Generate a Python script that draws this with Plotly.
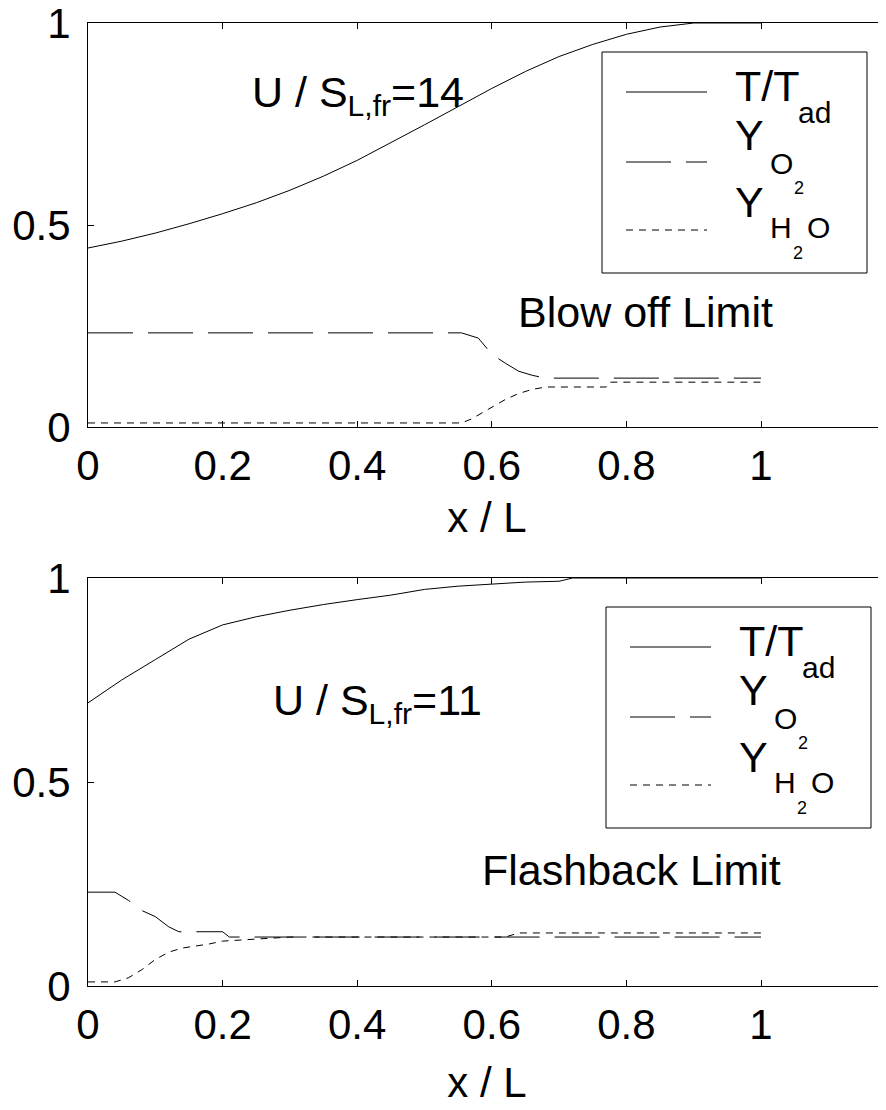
import plotly.graph_objects as go

# ---- data ----
# top panel : U / S_L,fr = 14 (blow off limit)
x_T_top = [0, 0.05, 0.1, 0.15, 0.2, 0.25, 0.3, 0.35, 0.4, 0.45, 0.5, 0.55, 0.6, 0.65, 0.7, 0.75, 0.8, 0.85, 0.9, 1.0]
T_top = [0.443, 0.46, 0.48, 0.503, 0.528, 0.555, 0.586, 0.621, 0.66, 0.703, 0.748, 0.793, 0.838, 0.88, 0.917, 0.947, 0.972, 0.99, 1.0, 1.0]

x_O2_top = [0, 0.555, 0.58, 0.6, 0.62, 0.64, 0.66, 0.68, 1.0]
O2_top = [0.233, 0.233, 0.22, 0.18, 0.158, 0.138, 0.128, 0.121, 0.121]

x_H2O_top = [0, 0.555, 0.57, 0.6, 0.62, 0.64, 0.66, 0.68, 0.77, 0.775, 1.0]
H2O_top = [0.01, 0.01, 0.02, 0.048, 0.068, 0.083, 0.093, 0.099, 0.099, 0.111, 0.111]

# bottom panel : U / S_L,fr = 11 (flashback limit)
x_T_bot = [0, 0.05, 0.1, 0.15, 0.2, 0.25, 0.3, 0.35, 0.4, 0.45, 0.5, 0.55, 0.6, 0.65, 0.7, 0.72, 1.0]
T_bot = [0.694, 0.75, 0.80, 0.85, 0.885, 0.905, 0.921, 0.935, 0.947, 0.958, 0.972, 0.98, 0.985, 0.99, 0.992, 1.0, 1.0]

x_O2_bot = [0, 0.04, 0.06, 0.08, 0.1, 0.12, 0.135, 0.2, 0.21, 1.0]
O2_bot = [0.23, 0.23, 0.21, 0.185, 0.17, 0.145, 0.133, 0.133, 0.12, 0.12]

x_H2O_bot = [0, 0.04, 0.06, 0.08, 0.1, 0.12, 0.14, 0.18, 0.2, 0.3, 0.62, 0.64, 1.0]
H2O_bot = [0.01, 0.01, 0.02, 0.04, 0.065, 0.083, 0.093, 0.103, 0.11, 0.12, 0.12, 0.13, 0.13]

xticks = [0, 0.2, 0.4, 0.6, 0.8, 1]
xticklabels = ["0", "0.2", "0.4", "0.6", "0.8", "1"]
yticks = [0, 0.5, 1]
yticklabels = ["0", "0.5", "1"]

FONT = "Liberation Sans, Arial, sans-serif"
OFF = 8  # page body margin
W, H = 886 - OFF, 1110 - OFF
PLOT_L, PLOT_T, PLOT_B = 88, 23, 986   # in screen pixels
L_M, T_M, B_M = PLOT_L - OFF, PLOT_T - OFF, 1110 - PLOT_B


def px(xp):
    return (xp - PLOT_L) / (886 - PLOT_L)


def py(yp):
    return (PLOT_B - yp) / (PLOT_B - PLOT_T)


DASH_O2 = "45px,15px"
DASH_H2O = "7px,6px"

fig = go.Figure()

panels = [
    ("x", "y", x_T_top, T_top, x_O2_top, O2_top, x_H2O_top, H2O_top),
    ("x2", "y2", x_T_bot, T_bot, x_O2_bot, O2_bot, x_H2O_bot, H2O_bot),
]
for xa, ya, xt, t, xo, o, xh, h in panels:
    fig.add_trace(go.Scatter(x=xt, y=t, mode="lines", xaxis=xa, yaxis=ya,
                             line=dict(color="black", width=1), showlegend=False))
    fig.add_trace(go.Scatter(x=xo, y=o, mode="lines", xaxis=xa, yaxis=ya,
                             line=dict(color="black", width=1, dash=DASH_O2), showlegend=False))
    fig.add_trace(go.Scatter(x=xh, y=h, mode="lines", xaxis=xa, yaxis=ya,
                             line=dict(color="black", width=1, dash=DASH_H2O), showlegend=False))

xmax = (886 - PLOT_L) / 673.0
axis_x = dict(range=[0, xmax], tickvals=xticks, ticktext=xticklabels, ticks="inside", ticklen=6,
              tickcolor="black", showline=True, linecolor="black", linewidth=1, mirror="ticks",
              showgrid=False, zeroline=False, tickfont=dict(size=42, color="black"),
              ticklabelstandoff=2, automargin=False, ticklabeloverflow="allow")
axis_y = dict(range=[0, 1], tickvals=yticks, ticktext=yticklabels, ticks="inside", ticklen=6,
              tickcolor="black", showline=True, linecolor="black", linewidth=1,
              showgrid=False, zeroline=False, tickfont=dict(size=42, color="black"),
              ticklabelstandoff=8, automargin=False, ticklabeloverflow="allow")

top_dom = [py(427), 1]
bot_dom = [0, py(578)]

fig.update_layout(
    width=W, height=H,
    margin=dict(l=L_M, r=0, t=T_M, b=B_M),
    paper_bgcolor="white", plot_bgcolor="white",
    font=dict(family=FONT, color="black"),
    showlegend=False,
    xaxis=dict(axis_x, domain=[0, 1], anchor="y",
               title=dict(text="x / L", font=dict(size=42, color="black"), standoff=14)),
    yaxis=dict(axis_y, domain=top_dom, anchor="x"),
    xaxis2=dict(axis_x, domain=[0, 1], anchor="y2",
                title=dict(text="x / L", font=dict(size=42, color="black"), standoff=20)),
    yaxis2=dict(axis_y, domain=bot_dom, anchor="x2"),
)

shapes = []
annotations = []


def text(xp, yp, s, size):
    annotations.append(dict(x=px(xp), y=py(yp), xref="paper", yref="paper", text=s,
                            showarrow=False, xanchor="left", yanchor="middle",
                            font=dict(family=FONT, size=size, color="black")))


def legend_box(x0, y0):
    shapes.append(dict(type="rect", xref="paper", yref="paper", x0=px(x0), x1=px(x0 + 265),
                       y0=py(y0), y1=py(y0 + 221), line=dict(color="black", width=1),
                       fillcolor="white", layer="above"))
    for dy, dash in [(40, "solid"), (110, DASH_O2), (178, DASH_H2O)]:
        shapes.append(dict(type="line", xref="paper", yref="paper", x0=px(x0 + 24), x1=px(x0 + 105),
                           y0=py(y0 + dy), y1=py(y0 + dy), line=dict(color="black", width=1, dash=dash)))
    text(x0 + 131, y0 + 34, "T/T", 43)
    text(x0 + 194, y0 + 60, "ad", 30)
    text(x0 + 131, y0 + 83, "Y", 43)
    text(x0 + 166, y0 + 111, "O", 30)
    text(x0 + 190, y0 + 136, "2", 18)
    text(x0 + 131, y0 + 150, "Y", 43)
    text(x0 + 166, y0 + 175, "H", 30)
    text(x0 + 189, y0 + 201, "2", 18)
    text(x0 + 203, y0 + 175, "O", 30)


legend_box(602, 52)
legend_box(606, 607)

text(250, 95, "U / S<sub>L,fr</sub>=14", 43)
text(271, 703, "U / S<sub>L,fr</sub>=11", 43)
text(516, 312, "Blow off Limit", 43)
text(480, 870, "Flashback Limit", 43)

fig.update_layout(shapes=shapes, annotations=annotations)

fig.write_html("out.html")
